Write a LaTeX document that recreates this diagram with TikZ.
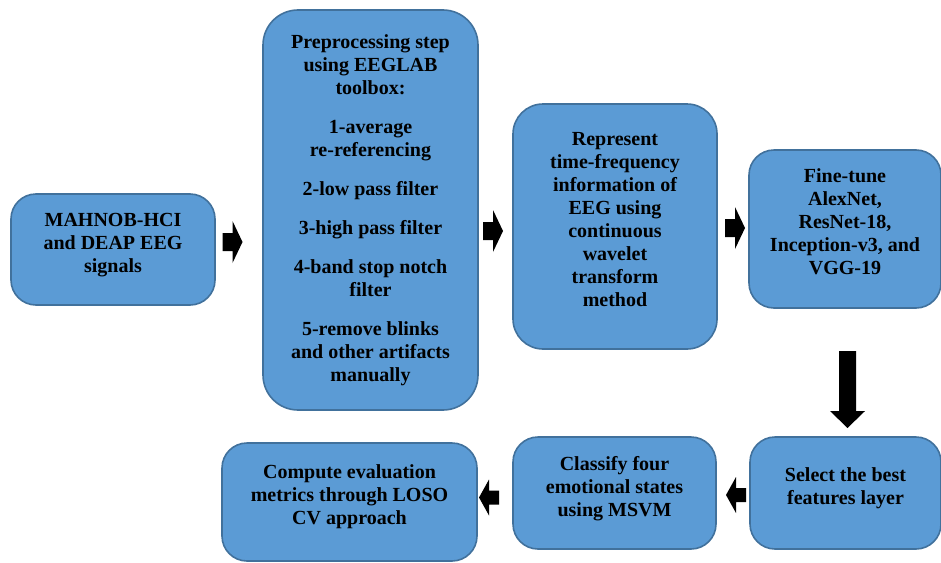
\documentclass[tikz,border=0pt]{standalone}
\usepackage{fontspec}
\setmainfont{Liberation Serif}
\definecolor{boxfill}{HTML}{5B9BD5}
\definecolor{boxline}{HTML}{41719C}

\begin{document}
\begin{tikzpicture}[x=1pt,y=-1pt,
    stage/.style={draw=boxline,fill=boxfill,line width=1.6pt,rounded corners=25pt,
        align=center,inner sep=0pt,text depth=14pt,
        font=\fontsize{20}{23}\selectfont\bfseries},
    blk/.pic={\fill (-10,-9) -- (0,-9) -- (0,-21) -- (10,0) -- (0,21) -- (0,9) -- (-10,9) -- cycle;},
    blkleft/.pic={\fill (-10,-7) -- (0,-7) -- (0,-18) -- (10,0) -- (0,18) -- (0,7) -- (-10,7) -- cycle;},
    blkdown/.pic={\fill (-38.5,-8.5) -- (21.5,-8.5) -- (21.5,-17.5) -- (38.5,0) -- (21.5,17.5) -- (21.5,8.5) -- (-38.5,8.5) -- cycle;}]
    \useasboundingbox (0,0) rectangle (941,562);
    \clip (0,0) rectangle (941,562);
    % top row
    \node[stage,minimum width=204pt,minimum height=111pt] (data) at (113,249.5)
        {MAHNOB-HCI\\and DEAP EEG\\signals};
    \node[stage,text depth=,rounded corners=35pt,minimum width=215pt,minimum height=400pt] (prep) at (370.5,210)
        {Preprocessing step\\using EEGLAB\\toolbox:\\[16pt]
         1-average\\re-referencing\\[16pt]
         2-low pass filter\\[16pt]
         3-high pass filter\\[16pt]
         4-band stop notch\\filter\\[16pt]
         5-remove blinks\\and other artifacts\\manually};
    \node[stage,rounded corners=30pt,minimum width=204pt,minimum height=245pt] (cwt) at (615,226.5)
        {Represent\\time-frequency\\information of\\EEG using\\continuous\\wavelet\\transform\\method};
    \node[stage,minimum width=192pt,minimum height=158pt] (tune) at (845,229)
        {Fine-tune\\AlexNet,\\ResNet-18,\\Inception-v3, and\\VGG-19};
    % bottom row
    \node[stage,minimum width=191pt,minimum height=112pt] (feat) at (845.5,493)
        {Select the best\\features layer};
    \node[stage,minimum width=203pt,minimum height=112pt] (svm) at (614.5,493)
        {Classify four\\emotional states\\using MSVM};
    \node[stage,minimum width=255pt,minimum height=118pt] (eval) at (349.5,502)
        {Compute evaluation\\metrics through LOSO\\CV approach};
    % block arrows
    \pic (a1) at (232.5,242) {blk};
    \pic (a2) at (493,231) {blk};
    \pic (a3) at (735,228) {blk};
    \pic[rotate=-90] (a4) at (847.5,389.5) {blkdown};
    \pic[rotate=180] (a5) at (736,495) {blkleft};
    \pic[rotate=180] (a6) at (489,497.5) {blkleft};
\end{tikzpicture}
\end{document}
